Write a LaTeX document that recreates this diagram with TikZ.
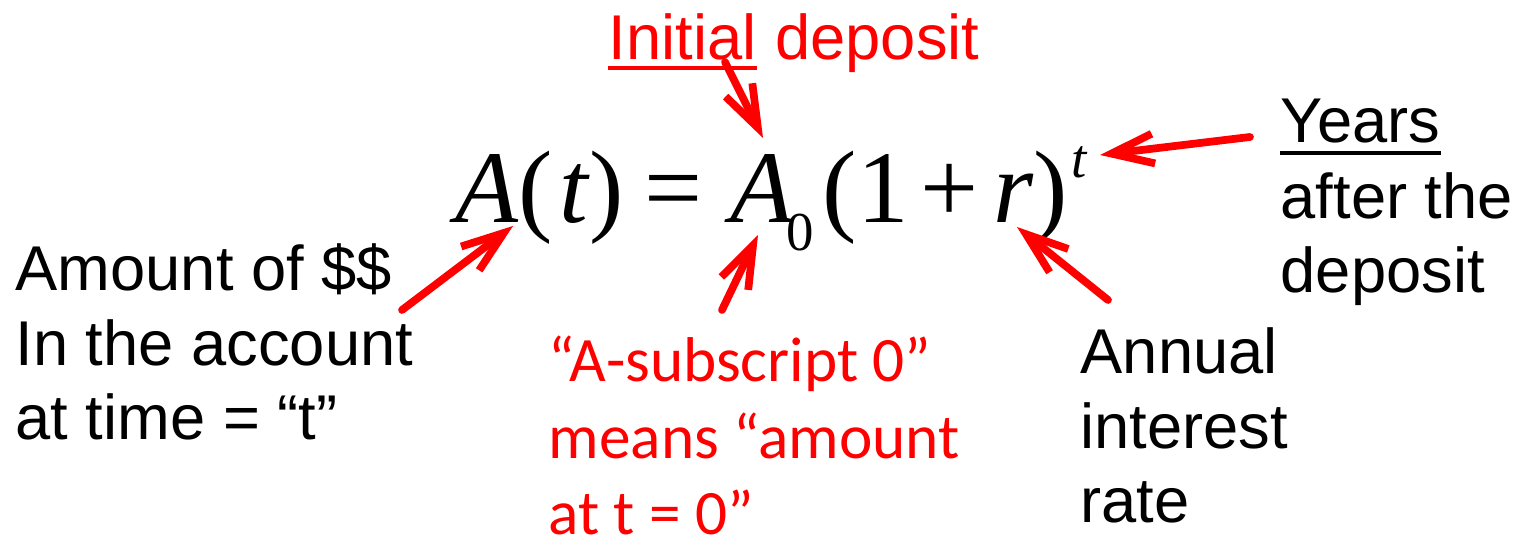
\documentclass[tikz,border=0pt]{standalone}
\usepackage{fontspec}
\setmainfont{Liberation Sans}
\newfontfamily\calfont{Carlito}
\newfontfamily\eqfont{Liberation Serif}
\usetikzlibrary{arrows.meta}

\tikzset{
  lbl/.style={inner sep=0pt, anchor=base west, align=left,
    font=\fontsize{18}{21.3}\selectfont},
  redlbl/.style={lbl, text=red, font=\calfont\fontsize{18}{21.9}\selectfont},
  eqtxt/.style={inner sep=0pt, anchor=base west,
    font=\eqfont\fontsize{29.3}{30}\selectfont},
  eqsub/.style={eqtxt, font=\eqfont\fontsize{15.6}{16}\selectfont},
  callout/.style={red, line width=2.2pt, line cap=round,
    -{Straight Barb[length=12pt,width=8.5pt]}},
  uline/.style={line width=1.1pt},
}

\begin{document}
\begin{tikzpicture}
      \useasboundingbox (0,0) rectangle (15.16,-5.41);

      % Formula
      \node[eqtxt] (lhs) at (4.55,-2.23) {{\itshape A}(\kern2pt{\itshape t}\kern0.3pt)};
      \node[eqtxt] (eq) at (6.44,-2.23) {=};
      \node[eqtxt] (Azero) at (7.30,-2.23) {\itshape A};
      \node[eqsub] (zero) at (7.86,-2.51) {0};
      \node[eqtxt] (rhs) at (8.22,-2.23) {(1\kern3.4pt+\kern4.3pt{\itshape r})};
      \node[eqsub] (expt) at (10.71,-1.78) {\itshape t};

      % Initial deposit
      \node[lbl, text=red] (initial) at (6.08,-0.60) {Initial};
      \node[lbl, text=red] (deposit) at ([xshift=5pt]initial.base east) {deposit};
      \draw[uline, red] ([yshift=-2.3pt]initial.base west) -- ([yshift=-2.3pt]initial.base east);

      % Years (base anchor = last line)
      \node[lbl] (years) at (12.80,-1.43) {Years};
      \draw[uline] ([yshift=-2.8pt]years.base west) -- ([yshift=-2.8pt]years.base east);
      \node[lbl] (after) at (12.80,-2.93) {after the\\deposit};

      % Other labels
      \node[lbl] (amount) at (0.15,-4.40) {Amount of \$\$\\In the account\\at time = “t”};
      \node[redlbl] (subnote) at (5.48,-5.35) {“A-subscript 0”\\means “amount\\at t = 0”};
      \node[lbl] (annual) at (10.80,-5.23) {Annual\\interest\\rate};

      % Arrow ends
      \coordinate (initial-s) at (7.25,-0.62);
      \coordinate (initial-e) at (7.63,-1.38);
      \coordinate (amount-s) at (4.02,-3.10);
      \coordinate (amount-e) at (5.13,-2.26);
      \coordinate (subnote-s) at (7.22,-3.10);
      \coordinate (subnote-e) at (7.58,-2.35);
      \coordinate (years-s) at (12.50,-1.37);
      \coordinate (years-e) at (11.00,-1.55);
      \coordinate (annual-s) at (11.08,-3.00);
      \coordinate (annual-e) at (10.17,-2.27);

      % Arrows
      \draw[callout] (initial-s) -- (initial-e);
      \draw[callout] (amount-s) -- (amount-e);
      \draw[callout] (subnote-s) -- (subnote-e);
      \draw[callout] (years-s) -- (years-e);
      \draw[callout] (annual-s) -- (annual-e);

\end{tikzpicture}
\end{document}
